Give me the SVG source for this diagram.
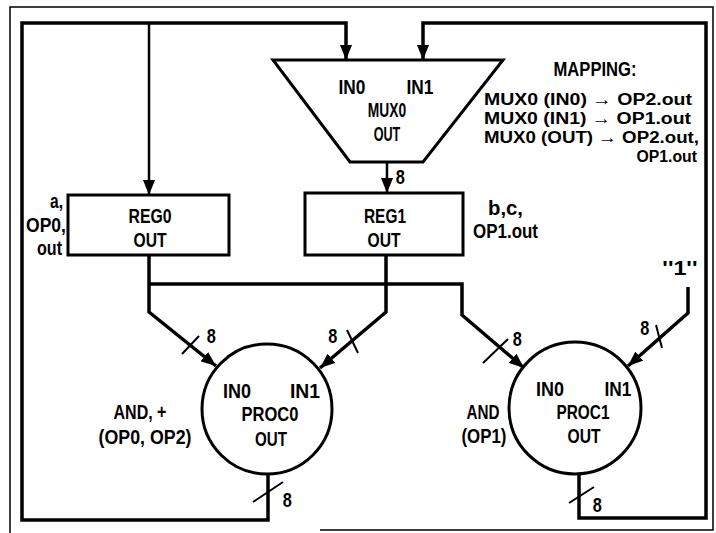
<svg xmlns="http://www.w3.org/2000/svg" width="716" height="533" viewBox="0 0 716 533">
<style>
text{font-family:"Liberation Sans",Arial,sans-serif;font-size:20px;font-weight:bold;fill:#000}
.mp{font-size:17px}
.m{text-anchor:middle}
.e{text-anchor:end}
.w{fill:none;stroke:#000;stroke-width:3.5;stroke-linejoin:miter}
.t{fill:none;stroke:#000;stroke-width:2.5}
.s{fill:none;stroke:#000;stroke-width:2}
.box{fill:#fff;stroke:#000;stroke-width:3}
.f{fill:none;stroke:#000;stroke-width:1.5}
</style>
<defs>
<marker id="ah" markerUnits="userSpaceOnUse" markerWidth="16" markerHeight="12" refX="15" refY="6" orient="auto">
<path d="M0,0 L15,6 L0,12 z" fill="#000"/>
</marker>
</defs>
<path class="f" d="M320,530 H713 V7 H10 V533"/>
<g id="connectors">
<path class="w" d="M268,474 V520 H22 V23 H346 V60" marker-end="url(#ah)"/>
<path class="t" d="M149,23 V195" marker-end="url(#ah)"/>
<path class="w" d="M579,474 V518 H706 V23 H423 V60" marker-end="url(#ah)"/>
<path class="t" d="M387,162 V193" marker-end="url(#ah)"/>
<path class="w" d="M149,255 V312 L216,366" marker-end="url(#ah)"/>
<path class="w" d="M386,255 V312 L320,368" marker-end="url(#ah)"/>
<path class="w" d="M149,284 H462 V315 L524,368" marker-end="url(#ah)"/>
<path class="w" d="M688,287 V313 L628,366" marker-end="url(#ah)"/>
<path class="s" d="M182,354 L199,336"/>
<path class="s" d="M347,330 L358,353"/>
<path class="s" d="M483,363 L508,339"/>
<path class="s" d="M656,325 L662,348"/>
<path class="s" d="M253,502 L283,482"/>
<path class="s" d="M569,503 L594,487"/>
<g transform="scale(0.65 1)">
<text x="609" y="184" textLength="14" lengthAdjust="spacingAndGlyphs">8</text>
<text x="318" y="343" textLength="14" lengthAdjust="spacingAndGlyphs">8</text>
<text x="505" y="343" textLength="14" lengthAdjust="spacingAndGlyphs">8</text>
<text x="789" y="346" textLength="14" lengthAdjust="spacingAndGlyphs">8</text>
<text x="985" y="335" textLength="14" lengthAdjust="spacingAndGlyphs">8</text>
<text x="435" y="507" textLength="14" lengthAdjust="spacingAndGlyphs">8</text>
<text x="912" y="512" textLength="14" lengthAdjust="spacingAndGlyphs">8</text>
<text class="m" x="1046" y="275" textLength="54" lengthAdjust="spacingAndGlyphs">''1''</text>
</g>
</g>
<g id="mux0">
<path class="box" d="M273,60 H503 L423,162 H350 Z"/>
<g transform="scale(0.65 1)">
<text class="m" x="541.5" y="94" textLength="41.5" lengthAdjust="spacingAndGlyphs">IN0</text>
<text class="m" x="646.2" y="94" textLength="41.5" lengthAdjust="spacingAndGlyphs">IN1</text>
<text class="m" x="595.4" y="117" textLength="59" lengthAdjust="spacingAndGlyphs">MUX0</text>
<text class="m" x="595.4" y="141" textLength="41" lengthAdjust="spacingAndGlyphs">OUT</text>
</g>
</g>
<g id="mapping" transform="scale(0.65 1)">
<text class="m" x="915.4" y="76" textLength="127.7" lengthAdjust="spacingAndGlyphs">MAPPING:</text>
<text class="mp" x="744.6" y="105" textLength="320" lengthAdjust="spacingAndGlyphs">MUX0 (IN0) → OP2.out</text>
<text class="mp" x="744.6" y="124" textLength="318.5" lengthAdjust="spacingAndGlyphs">MUX0 (IN1) → OP1.out</text>
<text class="mp" x="744.6" y="143" textLength="330.8" lengthAdjust="spacingAndGlyphs">MUX0 (OUT) → OP2.out,</text>
<text class="mp e" x="1072.3" y="162" textLength="93" lengthAdjust="spacingAndGlyphs">OP1.out</text>
</g>
<g id="reg0">
<rect class="box" x="68" y="195" width="161" height="60"/>
<g transform="scale(0.65 1)">
<text class="m" x="230.8" y="223" textLength="66.2" lengthAdjust="spacingAndGlyphs">REG0</text>
<text class="m" x="230.8" y="247" textLength="50.8" lengthAdjust="spacingAndGlyphs">OUT</text>
<text class="e" x="96.9" y="208" textLength="20" lengthAdjust="spacingAndGlyphs">a,</text>
<text class="e" x="101.5" y="232" textLength="61.5" lengthAdjust="spacingAndGlyphs">OP0,</text>
<text class="e" x="95.4" y="255" textLength="38.5" lengthAdjust="spacingAndGlyphs">out</text>
</g>
</g>
<g id="reg1">
<rect class="box" x="305" y="193" width="158" height="62"/>
<g transform="scale(0.65 1)">
<text class="m" x="592.3" y="223" textLength="64.6" lengthAdjust="spacingAndGlyphs">REG1</text>
<text class="m" x="590.8" y="247" textLength="50.8" lengthAdjust="spacingAndGlyphs">OUT</text>
<text x="750.8" y="215" textLength="53.8" lengthAdjust="spacingAndGlyphs">b,c,</text>
<text x="727.7" y="238" textLength="100" lengthAdjust="spacingAndGlyphs">OP1.out</text>
</g>
</g>
<g id="proc0">
<circle class="box" cx="267" cy="409" r="65"/>
<g transform="scale(0.65 1)">
<text class="m" x="364.6" y="398" textLength="43.1" lengthAdjust="spacingAndGlyphs">IN0</text>
<text class="m" x="469.2" y="398" textLength="46.2" lengthAdjust="spacingAndGlyphs">IN1</text>
<text class="m" x="415.4" y="421" textLength="87.7" lengthAdjust="spacingAndGlyphs">PROC0</text>
<text class="m" x="416.9" y="446" textLength="49.2" lengthAdjust="spacingAndGlyphs">OUT</text>
<text class="m" x="215.4" y="419" textLength="81.5" lengthAdjust="spacingAndGlyphs">AND, +</text>
<text class="m" x="223.1" y="444" textLength="143.1" lengthAdjust="spacingAndGlyphs">(OP0, OP2)</text>
</g>
</g>
<g id="proc1">
<circle class="box" cx="575" cy="408" r="66"/>
<g transform="scale(0.65 1)">
<text class="m" x="846.2" y="396" textLength="43.1" lengthAdjust="spacingAndGlyphs">IN0</text>
<text class="m" x="950.8" y="396" textLength="41.5" lengthAdjust="spacingAndGlyphs">IN1</text>
<text class="m" x="896.9" y="419" textLength="81.5" lengthAdjust="spacingAndGlyphs">PROC1</text>
<text class="m" x="898.5" y="443" textLength="50.8" lengthAdjust="spacingAndGlyphs">OUT</text>
<text class="m" x="743.1" y="419" textLength="50.8" lengthAdjust="spacingAndGlyphs">AND</text>
<text class="m" x="744.6" y="443" textLength="69.2" lengthAdjust="spacingAndGlyphs">(OP1)</text>
</g>
</g>
</svg>
